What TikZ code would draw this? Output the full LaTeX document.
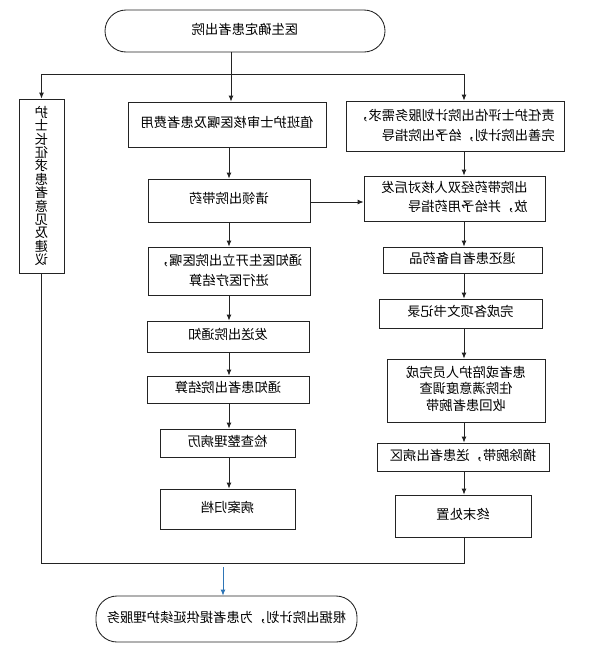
\documentclass[tikz,border=0pt]{standalone}
\usepackage{fontspec}
\usepackage{graphicx}
\newfontfamily\cjk{Noto Sans CJK SC}
\usetikzlibrary{arrows.meta}
\newcommand\mt[3]{\reflectbox{\fontsize{13.3}{#2}\selectfont\begin{tabular}{@{}#1@{}}#3\end{tabular}}}
\newcommand\vchars[1]{\reflectbox{\fontsize{13.3}{13.4}\selectfont\vbox{\baselineskip=13.4pt\lineskiplimit=-100pt\lineskip=0pt #1}}}
\definecolor{ln}{RGB}{35,35,35}
\definecolor{blu}{RGB}{46,117,182}
\tikzset{
  box/.style={draw=ln, line width=0.85pt, inner sep=0pt, font=\cjk, text=black},
  pill/.style={box, rounded corners=21pt},
  lin/.style={draw=ln, line width=0.85pt},
  arr/.style={lin, -{Latex[length=6pt,width=5pt]}},
}
\begin{document}
\begin{tikzpicture}[x=1pt,y=-1pt]
\path[use as bounding box, fill=white] (0,0) rectangle (600,659);
% top / bottom terminals
\node[pill, minimum width=280pt, minimum height=42pt] (top) at (245,31) {\mt{c}{16}{医生确定患者出院}};
\node[pill, minimum width=261pt, minimum height=46pt] (bot) at (226.5,619) {\mt{c}{16}{根据出院计划，为患者提供延续护理服务}};
% left column
\node[box, minimum width=45pt, minimum height=174pt] (lbox) at (41.5,186) {\vchars{\hbox{护}\hbox{士}\hbox{长}\hbox{征}\hbox{求}\hbox{患}\hbox{者}\hbox{意}\hbox{见}\hbox{及}\hbox{建}\hbox{议}}};
% center column
\node[box, minimum width=198pt, minimum height=45pt] (c1) at (227,124.5) {\mt{c}{16}{值班护士审核医嘱及患者费用}};
\node[box, minimum width=162pt, minimum height=43pt] (c2) at (229,200.5) {\mt{c}{16}{请领出院带药}};
\node[box, minimum width=162pt, minimum height=48pt] (c3) at (229,271) {\mt{c}{20}{通知医生开立出院医嘱，\\进行医疗结算}};
\node[box, minimum width=162pt, minimum height=31pt] (c4) at (228,336.5) {\mt{c}{16}{发送出院通知}};
\node[box, minimum width=162pt, minimum height=27pt] (c5) at (228,389.5) {\mt{c}{16}{通知患者出院结算}};
\node[box, minimum width=135pt, minimum height=28pt] (c6) at (227.5,443) {\mt{c}{16}{检查整理病历}};
\node[box, minimum width=135pt, minimum height=40pt] (c7) at (227.5,509) {\mt{c}{16}{病案归档}};
% right column
\node[box, minimum width=218pt, minimum height=50pt] (r1) at (455,126) {\mt{l}{20}{责任护士评估出院计划服务需求，\\完善出院计划，给予出院指导}};
\node[box, minimum width=181pt, minimum height=45pt] (r2) at (454.5,198.5) {\mt{l}{18.5}{出院带药经双人核对后发\\放，并给予用药指导}};
\node[box, minimum width=159pt, minimum height=26pt] (r3) at (462.5,260) {\mt{c}{16}{退还患者自备药品}};
\node[box, minimum width=163pt, minimum height=29pt] (r4) at (460.5,313.5) {\mt{c}{16}{完成各项文书记录}};
\node[box, minimum width=158pt, minimum height=63pt] (r5) at (466,390.5) {\mt{c}{16.5}{患者或陪护人员完成\\住院满意度调查\\收回患者腕带}};
\node[box, minimum width=172pt, minimum height=28pt] (r6) at (463,457) {\mt{c}{16}{摘除腕带，送患者出病区}};
\node[box, minimum width=136pt, minimum height=42pt] (r7) at (463,516) {\mt{c}{16}{终末处置}};
% junction coordinates
\coordinate (j) at (231,74);
\coordinate (cx) at (229,0);
\coordinate (rx) at (464,74);
\coordinate (br) at (464,563);
\coordinate (bj) at (223,567);
% top distribution
\draw[lin] (top.south -| j) -- (j);
\draw[arr] (j) -- (j |- c1.north);
\draw[arr] (j) -| (lbox.north);
\draw[arr] (j) -- (rx) -- (rx |- r1.north);
% center chain
\draw[arr] (c1.south -| cx) -- (cx |- c2.north);
\draw[arr] (c2.south -| cx) -- (cx |- c3.north);
\draw[arr] (c3.south -| cx) -- (cx |- c4.north);
\draw[arr] (c4.south -| cx) -- (cx |- c5.north);
\draw[arr] (c5.south -| cx) -- (cx |- c6.north);
\draw[arr] (c6.south -| cx) -- (cx |- c7.north);
% right chain
\draw[arr] (r1.south -| rx) -- (rx |- r2.north);
\draw[arr] (r2.south -| rx) -- (rx |- r3.north);
\draw[arr] (r3.south -| rx) -- (rx |- r4.north);
\draw[arr] (r4.south -| rx) -- (rx |- r5.north);
\draw[arr] (r5.south -| rx) -- (rx |- r6.north);
\draw[arr] (r6.south -| rx) -- (rx |- r7.north);
% cross arrow
\draw[arr] (c2.east |- 0,202) -- (r2.west |- 0,202);
% bottom merge
\draw[lin] (lbox.south) |- (br) -- (br |- r7.south);
\draw[arr, draw=blu] (bj) -- (bj |- bot.north);
\end{tikzpicture}
\end{document}
